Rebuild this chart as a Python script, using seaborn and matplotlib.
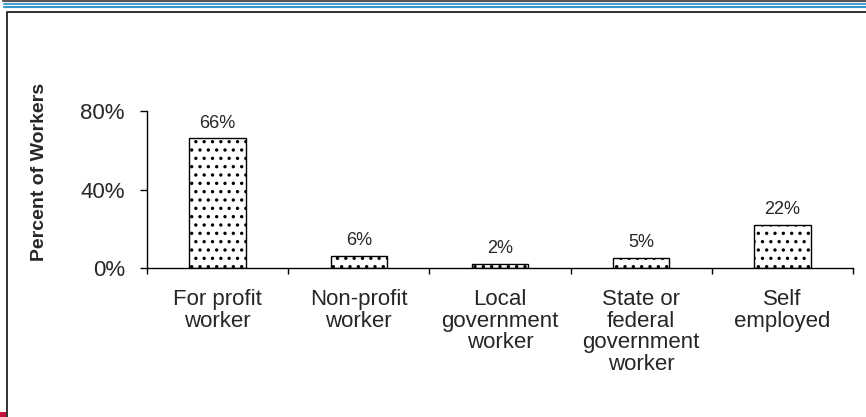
import seaborn as sns
import pandas as pd
import matplotlib.pyplot as plt
from matplotlib.lines import Line2D
from matplotlib.patches import Rectangle
from matplotlib.ticker import FixedLocator

# data
categories = ["For profit\nworker", "Non-profit\nworker", "Local\ngovernment\nworker",
              "State or\nfederal\ngovernment\nworker", "Self\nemployed"]
percent = [66, 6, 2, 5, 22]
y_ticks = [0, 40, 80]
y_tick_labels = ["0%", "40%", "80%"]

df = pd.DataFrame({"category": categories, "percent": percent})

sns.set_style("white")
plt.rcParams["font.family"] = ["Liberation Sans", "DejaVu Sans"]
plt.rcParams["hatch.linewidth"] = 1.2

W, H = 866, 417
fig = plt.figure(figsize=(W / 100, H / 100), dpi=100)
ax = fig.add_axes([147 / W, 1 - 268 / H, 706 / W, 157 / H])

sns.barplot(data=df, x="category", y="percent", color="white", width=0.4,
            edgecolor="black", linewidth=1, ax=ax)
for bar in ax.patches:
    bar.set_hatch("..")
    bar.set_facecolor("white")

ax.bar_label(ax.containers[0], labels=[f"{v}%" for v in percent],
             padding=5, fontsize=13)

ax.set_xlim(-0.5, len(categories) - 0.5)
ax.set_ylim(0, 80)
ax.set_yticks(y_ticks)
ax.set_yticklabels(y_tick_labels, fontsize=16)
ax.set_xlabel("")
ax.set_ylabel("")
for lab in ax.get_xticklabels():
    lab.set_fontsize(16)
    lab.set_linespacing(1.05)

ax.xaxis.set_minor_locator(FixedLocator([i - 0.5 for i in range(len(categories) + 1)]))
ax.tick_params(axis="x", which="major", length=0, pad=15)
ax.tick_params(axis="x", which="minor", length=4, width=1, color="black", direction="out", bottom=True)
ax.tick_params(axis="y", length=5, width=1, color="black", direction="out", left=True, pad=11)

for side in ["top", "right"]:
    ax.spines[side].set_visible(False)
for side in ["left", "bottom"]:
    ax.spines[side].set_color("black")
    ax.spines[side].set_linewidth(1)

fig.text(40 / W, 1 - 172 / H, "Percent of Workers", rotation=90, ha="center",
         va="center", fontsize=14, fontweight="bold")

# slide decoration: header rules, frame and corner mark
def px(x, y):
    return x / W, 1 - y / H

fig.add_artist(Line2D(*zip(px(3, 1), px(W, 1)), color="#555555", lw=1.6))
fig.add_artist(Line2D(*zip(px(4, 3.8), px(W, 3.8)), color="#3399CC", lw=1.3))
fig.add_artist(Line2D(*zip(px(4, 7.3), px(W, 7.3)), color="#3399CC", lw=1.5))
fig.add_artist(Line2D(*zip(px(7.5, H), px(7.5, 11.5), px(W, 11.5)), color="#222222", lw=1.3))
x0, y0 = px(0, H)
fig.add_artist(Rectangle((x0, y0), 6 / W, 5 / H, transform=fig.transFigure,
                         color="#C0143C", lw=0))

fig.savefig("out.png", dpi=100)
